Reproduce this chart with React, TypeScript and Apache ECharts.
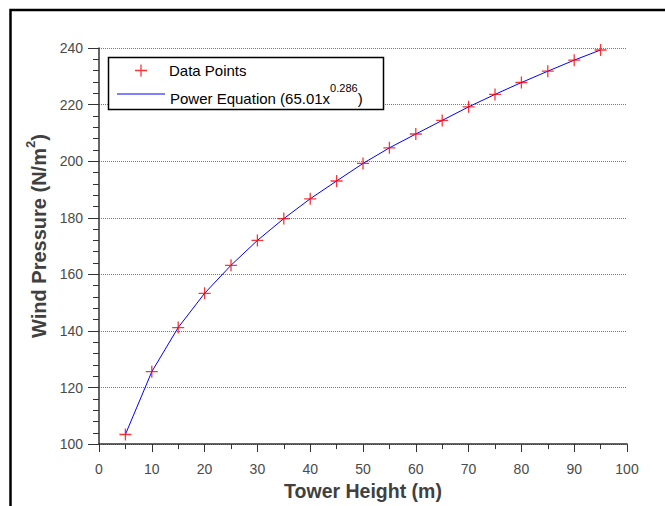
import React, { useEffect, useRef } from "react";
import * as echarts from "echarts";

const towerHeights = [5, 10, 15, 20, 25, 30, 35, 40, 45, 50, 55, 60, 65, 70, 75, 80, 85, 90, 95];
const dataPoints = [103.4, 125.6, 141.2, 153.3, 163.2, 172.0, 179.7, 186.7, 193.0, 199.2, 204.7, 209.6, 214.4, 219.2, 223.6, 227.8, 231.8, 235.7, 239.3];
const powerEquation = [103.4, 125.6, 141.2, 153.3, 163.2, 172.0, 179.7, 186.7, 193.0, 199.2, 204.7, 209.6, 214.4, 219.2, 223.6, 227.8, 231.8, 235.7, 239.3];

const FONT = "'Liberation Sans', Arial, sans-serif";
const GREY = "#404040";
const LABEL = "#4a4a4a";
const PLUS = "path://M5.35,0 L6.65,0 L6.65,12 L5.35,12 Z M0,5.35 L12,5.35 L12,6.65 L0,6.65 Z";
const LINEICON = "path://M0,0 L48,0 L48,1 L0,1 Z";

export default function App() {
  const ref = useRef<HTMLDivElement>(null);
  useEffect(() => {
    document.body.style.margin = "0";
    const chart = echarts.init(ref.current!, null, { renderer: "svg" });
    const scatterData = towerHeights.map((x, i) => [x, dataPoints[i]]);
    const lineData = towerHeights.map((x, i) => [x, powerEquation[i]]);
    chart.setOption({
      animation: false,
      backgroundColor: "#fff",
      textStyle: { fontFamily: FONT },
      grid: { left: 99, top: 48, right: 38, bottom: 58, containLabel: false },
      graphic: [
        {
          type: "rect",
          shape: { x: 10.5, y: 10, width: 720, height: 620 },
          style: { fill: "none", stroke: "#000", lineWidth: 2.5 },
          silent: true,
        },
        {
          type: "rect",
          shape: { x: 108.5, y: 57.5, width: 275, height: 52 },
          style: { fill: "#fff", stroke: "#000", lineWidth: 1.5 },
          silent: true,
          z: 5,
        },
      ],
      legend: [
        {
          data: [{ name: "Data Points", icon: PLUS }],
          left: 135,
          top: 63,
          padding: 0,
          itemWidth: 12,
          itemHeight: 12,
          z: 10,
          formatter: (n: string) => "{sp|}{a|" + n + "}",
          textStyle: {
            rich: {
              sp: { width: 17 },
              a: { fontSize: 15, color: "#000", fontFamily: FONT, lineHeight: 20 },
            },
          },
        },
        {
          data: [{ name: "Power Equation", icon: LINEICON }],
          left: 117,
          top: 82,
          padding: 0,
          itemWidth: 48,
          itemHeight: 1.2,
          z: 10,
          formatter: () => "{a|Power Equation (65.01x}{sup|0.286}{a|)}",
          textStyle: {
            rich: {
              a: { fontSize: 15, color: "#000", fontFamily: FONT, lineHeight: 24, verticalAlign: "bottom" },
              sup: { fontSize: 11, color: "#000", fontFamily: FONT, lineHeight: 15, verticalAlign: "top" },
            },
          },
        },
      ],
      xAxis: {
        type: "value",
        min: 0,
        max: 100,
        interval: 10,
        name: "Tower Height (m)",
        nameLocation: "middle",
        nameGap: 35,
        nameTextStyle: { fontSize: 19.5, fontWeight: "bold", color: GREY, fontFamily: FONT },
        axisLine: { show: true, lineStyle: { color: "#333", width: 1.5 } },
        axisTick: { show: true, length: 8, lineStyle: { color: "#333" } },
        minorTick: { show: true, splitNumber: 2, length: 5, lineStyle: { color: "#333" } },
        axisLabel: { fontSize: 14, color: LABEL, margin: 18, fontFamily: FONT },
        splitLine: { show: false },
      },
      yAxis: {
        type: "value",
        min: 100,
        max: 240,
        interval: 20,
        name: "{a|Wind Pressure (N/m}{s|2}{a|)}",
        nameLocation: "middle",
        nameGap: 48,
        nameRotate: 90,
        nameTextStyle: {
          padding: [0, 0, 0, 20],
          rich: {
            a: { fontSize: 20, fontWeight: "bold", color: GREY, fontFamily: FONT, lineHeight: 25, verticalAlign: "bottom" },
            s: { fontSize: 13, fontWeight: "bold", color: GREY, fontFamily: FONT, lineHeight: 15, verticalAlign: "top" },
          },
        },
        axisLine: { show: true, lineStyle: { color: "#333", width: 1.5 } },
        axisTick: { show: true, length: 11, lineStyle: { color: "#333" } },
        minorTick: { show: true, splitNumber: 5, length: 6, lineStyle: { color: "#333" } },
        axisLabel: { fontSize: 14, color: LABEL, margin: 16, fontFamily: FONT },
        splitLine: { show: true, lineStyle: { color: "#777", type: "dotted", width: 1 } },
      },
      series: [
        {
          name: "Data Points",
          type: "scatter",
          data: scatterData,
          symbol: PLUS,
          symbolSize: 12,
          itemStyle: { color: "#ff0000" },
          z: 4,
        },
        {
          name: "Power Equation",
          type: "line",
          data: lineData,
          showSymbol: false,
          symbol: "none",
          lineStyle: { color: "#0000ff", width: 1 },
          itemStyle: { color: "#0000ff" },
          z: 3,
        },
      ],
    });
    return () => chart.dispose();
  }, []);
  return <div ref={ref} style={{ width: 665, height: 506 }} />;
}
